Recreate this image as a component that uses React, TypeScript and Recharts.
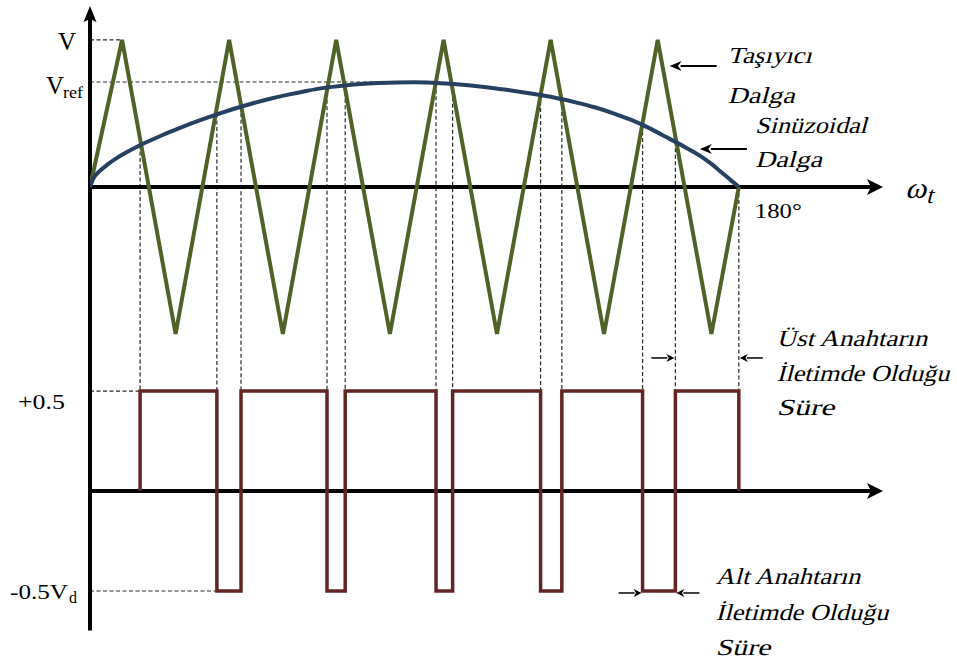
import React from 'react';
import { ComposedChart, Line, XAxis, YAxis, ReferenceLine, ReferenceDot } from 'recharts';

// ---- data (degrees on x, carrier/sine in units of V) ----
const carrierDeg = [0, 8.9, 23.75, 38.6, 53.5, 68.3, 83.2, 98.1, 112.9, 127.8, 142.6, 157.5, 172.4, 180];
const carrierVal = [0, 1, -1, 1, -1, 1, -1, 1, -1, 1, -1, 1, -1, 0];

const sineDeg = [0, 1, 2.5, 5, 7.5, 10, 12.5, 15, 20, 25, 30, 35, 40, 45, 50, 55, 60, 65, 70, 75, 80, 85, 90, 95, 100, 105, 110, 115, 120, 125, 130, 135, 140, 145, 150, 155, 160, 165, 170, 172.5, 175, 177.5, 179, 180];
const sineVal = [0, 0.06, 0.104, 0.155, 0.198, 0.234, 0.267, 0.297, 0.352, 0.402, 0.449, 0.492, 0.532, 0.568, 0.6, 0.628, 0.653, 0.674, 0.689, 0.7, 0.707, 0.711, 0.712, 0.709, 0.702, 0.692, 0.679, 0.663, 0.645, 0.625, 0.602, 0.574, 0.542, 0.503, 0.458, 0.402, 0.338, 0.272, 0.2, 0.155, 0.104, 0.052, 0.021, 0];

// switching instants (deg), output level after each switch, and sine value at crossing
const switchDeg = [13.9, 35.2, 41.9, 65.75, 70.8, 96.0, 100.6, 125.0, 130.9, 153.3, 162.4, 180];
const switchLevel = [0.5, -0.5, 0.5, -0.5, 0.5, -0.5, 0.5, -0.5, 0.5, -0.5, 0.5, 0];
const crossVal = [0.286, 0.497, 0.546, 0.682, 0.689, 0.705, 0.699, 0.626, 0.599, 0.422, 0.308, 0];

const VREF = 0.714;
const V = 1;

// lower panel placement on the common axis
const LOW0 = -2.068;
const LS = 1.36;
const low = (v: number) => LOW0 + v * LS;

const X_MAX = 220;
const Y_MIN = -3.027;
const Y_MAX = 1.231;

const carrierData = carrierDeg.map((x, i) => ({ x, y: carrierVal[i] }));
const sineData = sineDeg.map((x, i) => ({ x, y: sineVal[i] }));
const squareData: { x: number; y: number }[] = [{ x: switchDeg[0], y: low(0) }];
{
  let prev = 0;
  switchDeg.forEach((s, i) => {
    squareData.push({ x: s, y: low(prev) });
    squareData.push({ x: s, y: low(switchLevel[i]) });
    prev = switchLevel[i];
  });
}

const SERIF = '"Liberation Serif", "Times New Roman", serif';
const DASH = { stroke: '#2a2a2a', strokeWidth: 1.2, strokeDasharray: '4 2.5' };

const arrowH = (x1: number, x2: number, y: number, head: number, hw: number, sw: number) => {
  const dir = x2 > x1 ? 1 : -1;
  const base = x2 - dir * head;
  return (
    <g>
      <line x1={x1} y1={y} x2={base + dir * 1} y2={y} stroke="#000" strokeWidth={sw} />
      <polygon points={`${x2},${y} ${base},${y - hw} ${base + dir * head * 0.3},${y} ${base},${y + hw}`} fill="#000" />
    </g>
  );
};

const T = (x: number, y: number, s: string, opts: any = {}) => (
  <text
    x={opts.italic ? 0 : x}
    y={opts.italic ? 0 : y}
    transform={opts.italic ? `translate(${x},${y}) skewX(-15)` : undefined}
    fontFamily={SERIF}
    fontSize={opts.size || (opts.italic ? 23 : 22)}
    textAnchor={opts.anchor || 'start'}
    fill="#000"
    textLength={opts.len}
    lengthAdjust={opts.len ? 'spacingAndGlyphs' : undefined}
  >
    {s}
  </text>
);

const Anchor = (x: number, y: number, draw: (cx: number, cy: number) => React.ReactElement, key: string) => (
  <ReferenceDot
    key={key}
    x={x}
    y={y}
    r={0}
    ifOverflow="visible"
    isFront
    shape={(p: any) => draw(p.cx, p.cy)}
  />
);

export default function App() {
  return (
    <div style={{ position: 'absolute', left: 0, top: 0, width: 957, height: 662, background: '#fff' }}>
      <ComposedChart
        width={957}
        height={662}
        margin={{ top: 6, right: 74, bottom: 30, left: 90 }}
      >
        <XAxis type="number" dataKey="x" domain={[0, X_MAX]} hide allowDataOverflow />
        <YAxis type="number" domain={[Y_MIN, Y_MAX]} hide allowDataOverflow />

        {/* dashed guides */}
        <ReferenceLine ifOverflow="visible" segment={[{ x: 0, y: V }, { x: carrierDeg[1], y: V }]} {...DASH} />
        <ReferenceLine ifOverflow="visible" segment={[{ x: 0, y: VREF }, { x: 83, y: VREF }]} {...DASH} />
        <ReferenceLine ifOverflow="visible" segment={[{ x: 0, y: low(0.5) }, { x: switchDeg[0], y: low(0.5) }]} {...DASH} />
        <ReferenceLine ifOverflow="visible" segment={[{ x: 0, y: low(-0.5) }, { x: switchDeg[1], y: low(-0.5) }]} {...DASH} />
        {switchDeg.map((s, i) => (
          <ReferenceLine
            key={'v' + i}
            ifOverflow="visible"
            segment={[{ x: s, y: crossVal[i] }, { x: s, y: low(0.5) }]}
            {...DASH}
          />
        ))}

        {/* axes */}
        <ReferenceLine ifOverflow="visible" segment={[{ x: 0, y: Y_MIN + 0.01 }, { x: 0, y: Y_MAX - 0.06 }]} stroke="#000" strokeWidth={4} />
        <ReferenceLine ifOverflow="visible" segment={[{ x: 0, y: 0 }, { x: X_MAX - 3, y: 0 }]} stroke="#000" strokeWidth={4} />
        <ReferenceLine ifOverflow="visible" segment={[{ x: 0, y: low(0) }, { x: X_MAX - 3, y: low(0) }]} stroke="#000" strokeWidth={4} />

        <Line data={squareData} dataKey="y" type="linear" stroke="#632523" strokeWidth={3.5} dot={false} activeDot={false} isAnimationActive={false} strokeLinejoin="miter" />
        <Line data={carrierData} dataKey="y" type="linear" stroke="#4F6228" strokeWidth={4} dot={false} activeDot={false} isAnimationActive={false} />
        <Line data={sineData} dataKey="y" type="monotone" stroke="#254061" strokeWidth={4} dot={false} activeDot={false} isAnimationActive={false} />

        {/* arrow heads of axes */}
        {Anchor(0, Y_MAX, (cx, cy) => (
          <polygon points={`${cx},${cy} ${cx - 6.5},${cy + 16} ${cx},${cy + 13} ${cx + 6.5},${cy + 16}`} fill="#000" />
        ), 'ay')}
        {Anchor(X_MAX, 0, (cx, cy) => (
          <polygon points={`${cx},${cy} ${cx - 16},${cy - 8} ${cx - 12},${cy} ${cx - 16},${cy + 8}`} fill="#000" />
        ), 'ax1')}
        {Anchor(X_MAX, low(0), (cx, cy) => (
          <polygon points={`${cx},${cy} ${cx - 16},${cy - 8} ${cx - 12},${cy} ${cx - 16},${cy + 8}`} fill="#000" />
        ), 'ax2')}

        {/* axis labels */}
        {Anchor(0, V, (cx, cy) => T(cx - 14, cy + 10, 'V', { size: 25, anchor: 'end' }), 'lv')}
        {Anchor(0, VREF, (cx, cy) => (
          <g>
            {T(cx - 44, cy + 12, 'V', { size: 25 })}
            {T(cx - 27, cy + 16, 'ref', { size: 17, len: 20 })}
          </g>
        ), 'lvref')}
        {Anchor(0, low(0.5), (cx, cy) => T(cx - 72, cy + 18, '+0.5', { size: 22, len: 47 }), 'lp')}
        {Anchor(0, low(-0.5), (cx, cy) => (
          <g>
            {T(cx - 80, cy + 8, '-0.5V', { size: 22, len: 58 })}
            {T(cx - 21, cy + 12, 'd', { size: 16 })}
          </g>
        ), 'lm')}
        {Anchor(180, 0, (cx, cy) => T(cx + 16, cy + 31, '180°', { size: 22, len: 47 }), 'l180')}
        {Anchor(X_MAX, 0, (cx, cy) => (
          <g>
            {T(cx + 22, cy + 11, 'ω', { size: 30, italic: true, len: 21 })}
            {T(cx + 43, cy + 16, 't', { size: 24, italic: true })}
          </g>
        ), 'lw')}

        {/* annotations */}
        {Anchor(160.8, 0.823, (cx, cy) => (
          <g>
            {arrowH(cx + 47, cx, cy, 12, 5, 2)}
            {T(cx + 58, cy - 3, 'Taşıyıcı', { italic: true, len: 84 })}
            {T(cx + 58, cy + 37, 'Dalga', { italic: true, len: 67 })}
          </g>
        ), 'a1')}
        {Anchor(169.2, 0.259, (cx, cy) => (
          <g>
            {arrowH(cx + 47, cx, cy, 12, 5, 2)}
            {T(cx + 55, cy - 16, 'Sinüzoidal', { italic: true, len: 112 })}
            {T(cx + 55, cy + 18, 'Dalga', { italic: true, len: 67 })}
          </g>
        ), 'a2')}
        {Anchor(switchDeg[10], -1.163, (cx, cy) => (
          <g>
            {arrowH(cx - 24, cx - 1, cy, 8, 4, 1.5)}
            {T(cx + 101, cy - 12, 'Üst Anahtarın', { italic: true, len: 151 })}
            {T(cx + 101, cy + 23, 'İletimde Olduğu', { italic: true, len: 173 })}
            {T(cx + 101, cy + 57, 'Süre', { italic: true, len: 58 })}
          </g>
        ), 'a3')}
        {Anchor(switchDeg[11], -1.163, (cx, cy) => arrowH(cx + 24, cx + 1, cy, 8, 4, 1.5), 'a4')}
        {Anchor(switchDeg[9], low(-0.5), (cx, cy) => (
          <g>{arrowH(cx - 24, cx - 1, cy + 2, 8, 4, 1.5)}</g>
        ), 'a5')}
        {Anchor(switchDeg[10], low(-0.5), (cx, cy) => (
          <g>
            {arrowH(cx + 24, cx + 1, cy + 2, 8, 4, 1.5)}
            {T(cx + 40, cy - 7, 'Alt Anahtarın', { italic: true, len: 145 })}
            {T(cx + 40, cy + 29, 'İletimde Olduğu', { italic: true, len: 173 })}
            {T(cx + 40, cy + 64, 'Süre', { italic: true, len: 55 })}
          </g>
        ), 'a6')}
      </ComposedChart>
    </div>
  );
}
